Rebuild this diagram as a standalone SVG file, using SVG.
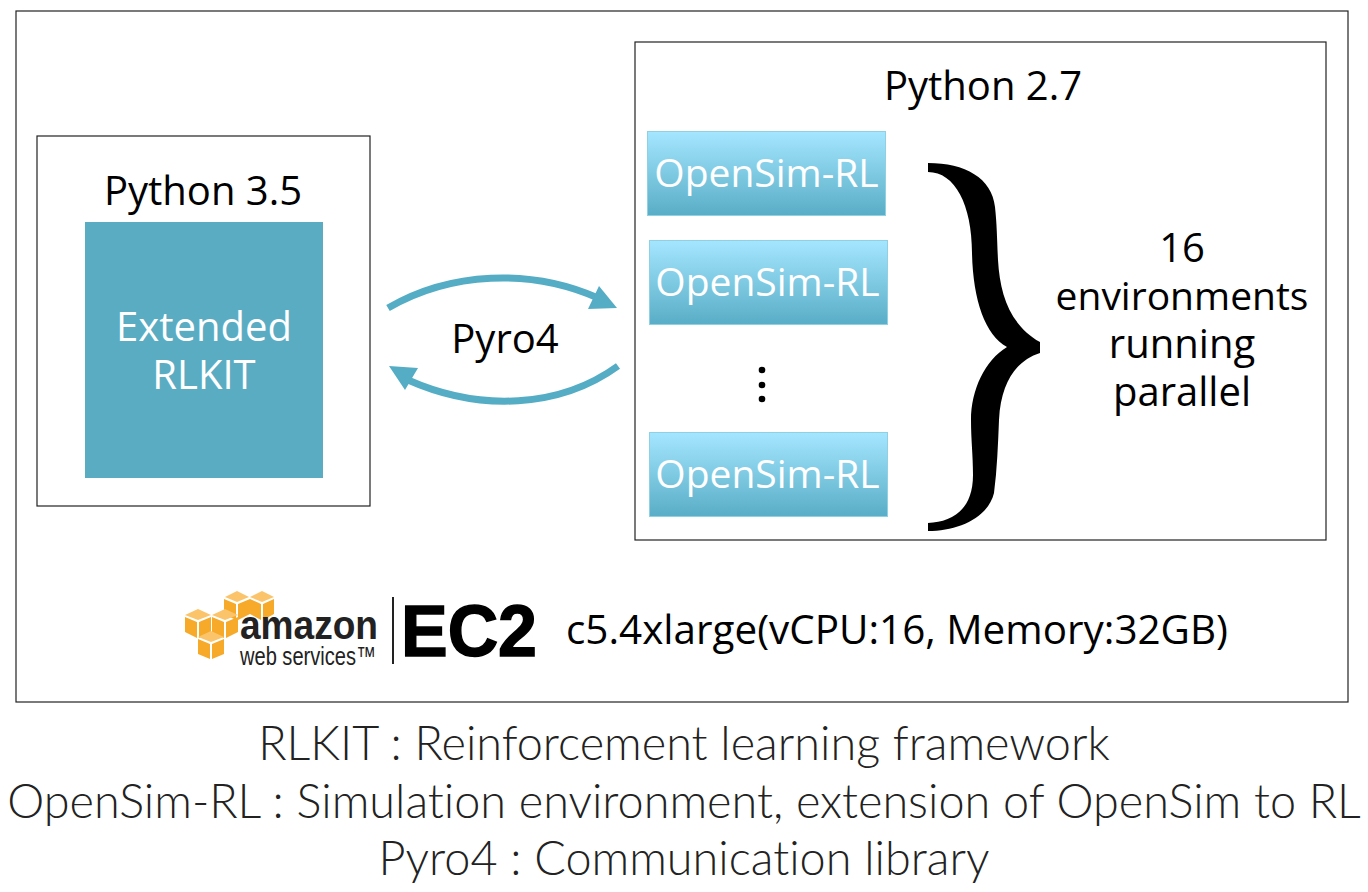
<svg xmlns="http://www.w3.org/2000/svg" width="1368" height="892" viewBox="0 0 1368 892">
<style>
.frame{fill:#fff;stroke:#222;stroke-width:1.2}
.t{font-family:"Open Sans","Noto Sans",sans-serif;font-size:40px;fill:#000;text-anchor:middle}
.w{fill:#fff;font-size:39px}
.e{font-size:39px}
.cap{font-family:"Lato","Noto Sans",sans-serif;font-weight:300;font-size:46.800px;fill:#222;text-anchor:middle;font-variant-ligatures:none}
.env{fill:url(#g);stroke:#8fd0e2;stroke-width:1}
.ar{fill:none;stroke:#54adc4;stroke-width:7}
.head{fill:#54adc4}
.cube{fill:#f7a929}
.top{fill:#fbc46a}
.logo{font-family:"Liberation Sans",sans-serif;fill:#222}
</style>
<defs>
<linearGradient id="g" x1="0" y1="0" x2="0" y2="1"><stop offset="0" stop-color="#a5e6ff"/><stop offset="1" stop-color="#59adc6"/></linearGradient>
</defs>
<rect width="1368" height="892" fill="#fff"/>
<rect id="outer" class="frame" x="16" y="11" width="1332" height="691"/>
<g id="py35"><rect class="frame" x="37" y="136" width="333" height="370"/><text class="t" x="203" y="205">Python 3.5</text></g>
<g id="rlkit"><rect x="85" y="222" width="238" height="256" fill="#5aacc3"/><text class="t" x="204" y="341" style="fill:#fff">Extended</text><text class="t" x="204" y="389" style="fill:#fff">RLKIT</text></g>
<g id="py27"><rect class="frame" x="635" y="42" width="691" height="498"/><text class="t" x="983" y="100">Python 2.7</text></g>
<g id="env1"><rect class="env" x="647.500" y="131.500" width="238" height="84"/><text class="t w" x="766.500" y="187">OpenSim-RL</text></g>
<g id="env2"><rect class="env" x="649.500" y="240.500" width="238" height="84"/><text class="t w" x="767.500" y="296">OpenSim-RL</text></g>
<g id="env3"><rect class="env" x="649.500" y="432.500" width="238" height="84"/><text class="t w" x="767.500" y="488">OpenSim-RL</text></g>
<g id="dots"><circle cx="762" cy="370" r="3.300"/><circle cx="762" cy="385" r="3.300"/><circle cx="762" cy="399" r="3.300"/></g>
<g id="brace"><path d="M928 163C965 163 992 178 995 207C997 225 997 240 998 260C1000 295 1010 325 1040 342L1040 353C1018 360 1001 380 999 420C998 445 997 470 994 493C988 518 958 531 928 531L928 523C952 522 973 510 973 475C973 455 971 440 971 420C971 390 985 360 1007 347C985 335 973 300 972 253C972 205 955 172 928 172Z"/></g>
<g id="parallel"><text class="t" x="1182" y="262">16</text><text class="t e" x="1182" y="310">environments</text><text class="t" x="1182" y="358">running</text><text class="t" x="1182" y="406">parallel</text></g>
<g id="connectors">
<path class="ar" d="M388 308C450 272 530 268 598 298"/><polygon class="head" points="617,308 599,286 588,309"/>
<path class="ar" d="M618 366C560 408 480 412 408 380"/><polygon class="head" points="389,366 418,368 405,390"/>
</g>
<text id="pyro" class="t" x="505" y="353">Pyro4</text>
<g id="aws">
<g id="cubes">
<path class="top" d="M225 597l12-6 12 6-12 5z"/><path class="cube" d="M224 599l12 5v16l-12-6zM238 604l12-5v15l-12 6z"/>
<path class="top" d="M250 597l12-6 12 6-12 5z"/><path class="cube" d="M250 599l11 5v16l-11-6zM263 604l11-5v15l-11 6z"/>
<path class="top" d="M185 615l13-6 13 6-13 5z"/><path class="cube" d="M185 617l12 5v16l-12-6zM199 622l12-5v15l-12 6z"/>
<path class="top" d="M212 615l13-6 13 6-13 5z"/><path class="cube" d="M212 617l12 5v16l-12-6zM226 622l12-5v15l-12 6z"/>
<path class="top" d="M198 637l13-6 13 6-13 5z"/><path class="cube" d="M198 639l12 5v15l-12-5zM212 644l12-5v15l-12 5z"/>
</g>
<text class="logo" x="240" y="639" font-weight="700" font-size="41" textLength="138" lengthAdjust="spacingAndGlyphs">amazon</text>
<text class="logo" x="240" y="665" font-size="26" textLength="136" lengthAdjust="spacingAndGlyphs">web services™</text>
<rect x="392" y="597" width="2" height="67" fill="#222"/>
<text x="401" y="656" font-family="Liberation Sans,sans-serif" font-weight="700" font-size="73" textLength="136" lengthAdjust="spacingAndGlyphs" stroke="#000" stroke-width="1.500">EC2</text>
</g>
<text id="spec" class="t" x="897" y="644" textLength="662" lengthAdjust="spacingAndGlyphs">c5.4xlarge(vCPU:16, Memory:32GB)</text>
<g id="caption">
<text class="cap" x="684" y="760">RLKIT : Reinforcement learning framework</text>
<text class="cap" x="684" y="818">OpenSim-RL : Simulation environment, extension of OpenSim to RL</text>
<text class="cap" x="684" y="875">Pyro4 : Communication library</text>
</g>
</svg>
